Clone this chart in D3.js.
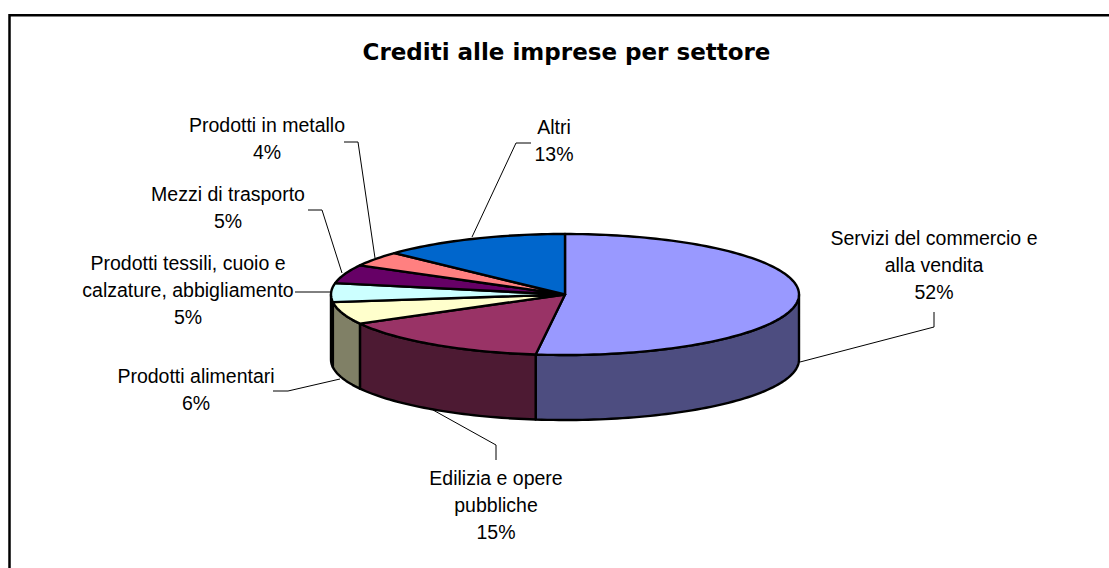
<!DOCTYPE html>
<html lang="it">
<head>
<meta charset="utf-8">
<title>Crediti alle imprese per settore</title>
<script src="https://cdn.jsdelivr.net/npm/d3@7"></script>
<style>
  html, body { margin: 0; padding: 0; background: #fff; }
  svg { display: block; }
  .label { font-family: "Liberation Sans", Arial, sans-serif; font-size: 19.5px; fill: #000; text-anchor: middle; }
  .title { font-family: "DejaVu Sans", Verdana, sans-serif; font-size: 23px; font-weight: bold; fill: #000; text-anchor: middle; }
</style>
</head>
<body>
<svg id="chart" width="1109" height="568"></svg>
<script>
// Sector names, shares and the wrapped lines of each data label
const chartTitle = "Crediti alle imprese per settore";
const sectors = ["Servizi del commercio e alla vendita", "Edilizia e opere pubbliche", "Prodotti alimentari",
  "Prodotti tessili, cuoio e calzature, abbigliamento", "Mezzi di trasporto", "Prodotti in metallo", "Altri"];
const shares = [52, 15, 6, 5, 5, 4, 13];
const labelLines = [
  ["Servizi del commercio e", "alla vendita"],
  ["Edilizia e opere", "pubbliche"],
  ["Prodotti alimentari"],
  ["Prodotti tessili, cuoio e", "calzature, abbigliamento"],
  ["Mezzi di trasporto"],
  ["Prodotti in metallo"],
  ["Altri"]
];

// Palette: top faces and their darker rim faces
const topColors = ["#9999FF", "#993366", "#FFFFCC", "#CCFFFF", "#660066", "#FF8080", "#0066CC"];
const sideColors = ["#4D4D80", "#4D1A33", "#808066", "#668080", "#330033", "#804040", "#003366"];

// Where each label block sits (first baseline), and the elbow of its leader line
const labelAnchors = [[934, 245], [496, 484.5], [196, 383], [188, 270], [228, 200.5], [267, 132], [554, 134]];
const leaders = [
  [[800, 362], [934, 327], [934, 312]],
  [[433, 410], [496, 445], [496, 460]],
  [[340, 379], [288, 391], [273, 391]],
  [[330, 292], [295, 292]],
  [[342, 273], [322, 210], [308, 210]],
  [[375, 258], [358, 142], [344, 142]],
  [[472, 237], [516, 143], [531, 143]]
];

const svg = d3.select("#chart");
const cx = 565, cy = 294.5, rx = 234, ry = 60.5, depth = 65;

// Outer frame of the chart area, running off the right and lower edges of the page
svg.append("path")
  .attr("d", "M9.5,568V15.3H1109")
  .attr("fill", "none").attr("stroke", "#000").attr("stroke-width", 2.5);

svg.append("text").attr("class", "title")
  .attr("x", 566.5).attr("y", 60)
  .text(chartTitle);

// Slices run clockwise from twelve o'clock, in data order
const pie = d3.pie().sort(null).startAngle(0).endAngle(2 * Math.PI);
const slices = pie(shares);

// Elliptical projection of a pie angle onto the tilted disc
const px = d3.scaleLinear().domain([-1, 1]).range([cx - rx, cx + rx]);
const py = d3.scaleLinear().domain([-1, 1]).range([cy - ry, cy + ry]);
const project = a => [px(Math.sin(a)), py(-Math.cos(a))];

const outline = { stroke: "#000", width: 2.4 };
const line = d3.line();

function arcPoints(a0, a1, dy) {
  const n = Math.max(2, Math.ceil(Math.abs(a1 - a0) * 40));
  return d3.range(n + 1).map(i => {
    const p = project(a0 + (a1 - a0) * i / n);
    return [p[0], p[1] + dy];
  });
}

// Rim faces: only the part of each slice on the viewer's side of the disc shows
const front0 = Math.PI / 2, front1 = 3 * Math.PI / 2;
const rims = slices
  .map((s, i) => ({ i, a0: Math.max(s.startAngle, front0), a1: Math.min(s.endAngle, front1) }))
  .filter(r => r.a1 > r.a0);

svg.append("g").selectAll("path").data(rims).join("path")
  .attr("d", r => line(arcPoints(r.a0, r.a1, 0).concat(arcPoints(r.a1, r.a0, depth))) + "Z")
  .attr("fill", r => sideColors[r.i])
  .attr("stroke", outline.stroke).attr("stroke-width", outline.width).attr("stroke-linejoin", "round");

// Top faces
svg.append("g").selectAll("path").data(slices).join("path")
  .attr("d", s => line([[cx, cy]].concat(arcPoints(s.startAngle, s.endAngle, 0))) + "Z")
  .attr("fill", (s, i) => topColors[i])
  .attr("stroke", outline.stroke).attr("stroke-width", outline.width).attr("stroke-linejoin", "round");

// Leader lines
svg.append("g").selectAll("path").data(leaders).join("path")
  .attr("d", line)
  .attr("fill", "none").attr("stroke", "#000").attr("stroke-width", 1);

// Data labels: wrapped name followed by the share
const lineStep = 27;
const labels = svg.append("g").selectAll("text").data(sectors).join("text")
  .attr("class", "label")
  .attr("aria-label", d => d);
labels.each(function (d, i) {
  const rows = labelLines[i].concat(shares[i] + "%");
  const [x, y] = labelAnchors[i];
  d3.select(this).selectAll("tspan").data(rows).join("tspan")
    .attr("x", x)
    .attr("y", (r, k) => y + k * lineStep)
    .text(r => r);
});
</script>
</body>
</html>
